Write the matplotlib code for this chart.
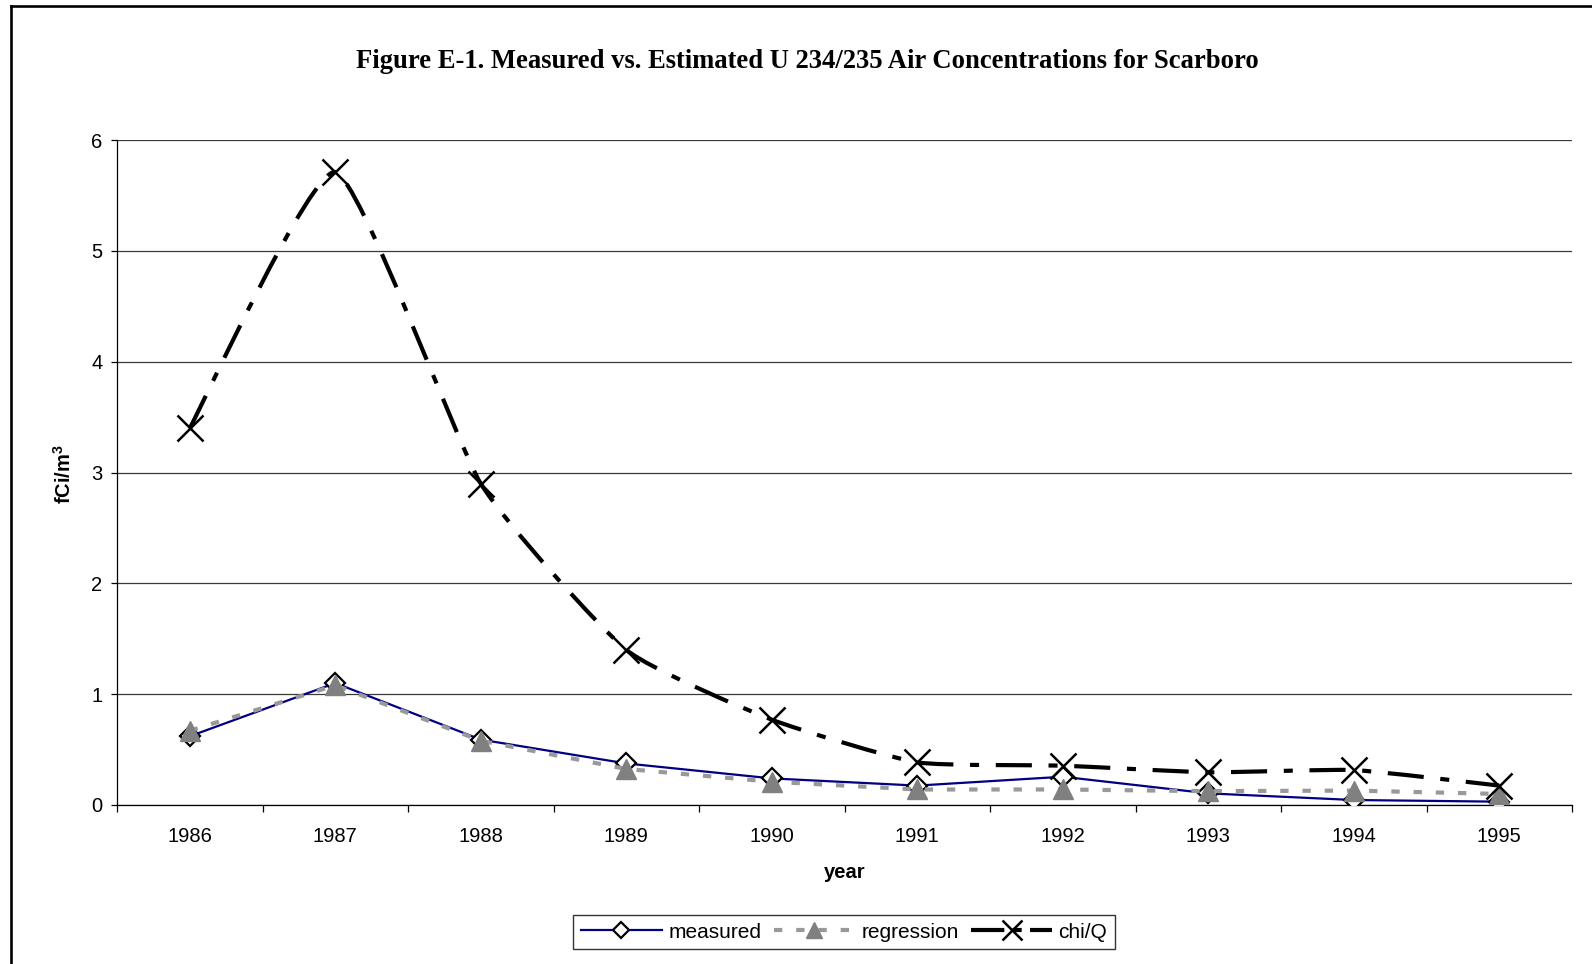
import numpy as np
import matplotlib
matplotlib.use("Agg")
import matplotlib.pyplot as plt
from matplotlib.path import Path
from matplotlib.patches import PathPatch
from matplotlib.lines import Line2D

# ---------------- data ----------------
years = [1986, 1987, 1988, 1989, 1990, 1991, 1992, 1993, 1994, 1995]
measured = [0.62, 1.10, 0.59, 0.375, 0.24, 0.175, 0.255, 0.105, 0.045, 0.03]
regression = [0.67, 1.08, 0.58, 0.325, 0.21, 0.14, 0.14, 0.125, 0.13, 0.10]
chiq = [3.40, 5.71, 2.90, 1.40, 0.77, 0.385, 0.355, 0.295, 0.315, 0.175]
yticks = [0, 1, 2, 3, 4, 5, 6]
title = "Figure E-1. Measured vs. Estimated U 234/235 Air Concentrations for Scarboro"
series_names = ["measured", "regression", "chi/Q"]

plt.rcParams['lines.scale_dashes'] = False
plt.rcParams['font.family'] = ['Liberation Sans', 'DejaVu Sans']
plt.rcParams['mathtext.fontset'] = 'custom'
plt.rcParams['mathtext.rm'] = 'Liberation Sans'
plt.rcParams['mathtext.bf'] = 'Liberation Sans:bold'

W, H = 1592, 964
fig = plt.figure(figsize=(W / 100, H / 100), dpi=100)
fig.patch.set_facecolor('white')

left, right, top, bottom = 117, 1572, 140, 805
ax = fig.add_axes([left / W, 1 - bottom / H, (right - left) / W, (bottom - top) / H])

# gridlines
ax.set_ylim(0, 6)
ax.set_xlim(years[0] - 0.5, years[-1] + 0.5)
ax.set_yticks(yticks)
ax.yaxis.grid(True, color='#3a3a3a', linewidth=0.9)
ax.set_axisbelow(True)
for s in ['top', 'right']:
    ax.spines[s].set_visible(False)
for s in ['left', 'bottom']:
    ax.spines[s].set_color('black')
    ax.spines[s].set_linewidth(0.9)

ax.set_xticks(years)
ax.set_xticklabels([str(y) for y in years])
ax.set_xticks([y - 0.5 for y in years] + [years[-1] + 0.5], minor=True)
ax.tick_params(axis='x', which='major', length=0, pad=16, labelsize=14.5)
ax.tick_params(axis='x', which='minor', length=5, width=0.9, direction='out')
ax.tick_params(axis='y', which='major', length=4.5, width=0.9, direction='out', pad=6, labelsize=14.5)

# measured
ax.plot(years, measured, color='#000080', linewidth=1.6, marker='D', markersize=10,
        markerfacecolor='white', markeredgecolor='black', markeredgewidth=1.6, zorder=3)

# regression
reg_dash = (0, (6, 10))
ax.plot(years, regression, color='#999999', linewidth=3.0, linestyle=reg_dash,
        dash_capstyle='butt', zorder=4)
ax.plot(years, regression, linestyle='none', marker='^', markersize=14,
        markerfacecolor='#808080', markeredgecolor='#808080', zorder=5)

# chi/Q - smoothed line (Bezier through the data points)
tension = 1.0 / 12.0
pts = np.column_stack([years, chiq]).astype(float)
n = len(pts)
verts = [pts[0]]
codes = [Path.MOVETO]
for i in range(n - 1):
    p0 = pts[max(i - 1, 0)]
    p1 = pts[i]
    p2 = pts[i + 1]
    p3 = pts[min(i + 2, n - 1)]
    c1 = p1 + (p2 - p0) * tension
    c2 = p2 - (p3 - p1) * tension
    verts += [c1, c2, p2]
    codes += [Path.CURVE4] * 3
chi_dash = (0, (26, 12, 6.5, 12))
patch = PathPatch(Path(verts, codes), fill=False, edgecolor='black', linewidth=3.0,
                  linestyle=chi_dash, capstyle='butt', zorder=6)
ax.add_patch(patch)
ax.plot(years, chiq, linestyle='none', marker='x', markersize=19,
        markeredgecolor='black', markeredgewidth=1.8, zorder=7)

# texts
fig.text(807.7 / W, 1 - 61 / H, title, ha='center', va='center', fontsize=19.2,
         fontweight='bold', family=['Liberation Serif', 'DejaVu Serif'])
fig.text(845 / W, 1 - 873 / H, "year", ha='center', va='center', fontsize=14.5, fontweight='bold')
fig.text(64 / W, 1 - 474 / H, r"fCi/m$^{\mathbf{3}}$", ha='center', va='center',
         rotation=90, fontsize=14.5, fontweight='bold')

# legend
handles = [
    Line2D([], [], color='#000080', linewidth=1.6, marker='D', markersize=8,
           markerfacecolor='white', markeredgecolor='black', markeredgewidth=1.6),
    Line2D([], [], color='#999999', linewidth=3.0, linestyle=reg_dash, marker='^', markersize=12,
           markerfacecolor='#808080', markeredgecolor='#808080'),
    Line2D([], [], color='black', linewidth=3.0, linestyle=(0, (24, 6, 6.5, 6)), marker='x',
           markersize=14, markeredgecolor='black', markeredgewidth=1.8),
]
leg = fig.legend(handles, series_names, loc='center', bbox_to_anchor=(844 / W, 1 - 932 / H),
                 ncol=3, fontsize=15, frameon=True, fancybox=False, shadow=False,
                 handlelength=3.9, handletextpad=0.3, columnspacing=0.6, borderpad=0.38,
                 borderaxespad=0, numpoints=1)
leg.get_frame().set_edgecolor('black')
leg.get_frame().set_linewidth(1.0)

# figure border (left and top visible)
bx = 11 / W
by = 1 - 6 / H
fig.add_artist(Line2D([bx, bx], [0, by], transform=fig.transFigure, color='black', linewidth=1.9))
fig.add_artist(Line2D([bx, 1], [by, by], transform=fig.transFigure, color='black', linewidth=1.9))

fig.savefig("out.png", dpi=100, facecolor='white')
